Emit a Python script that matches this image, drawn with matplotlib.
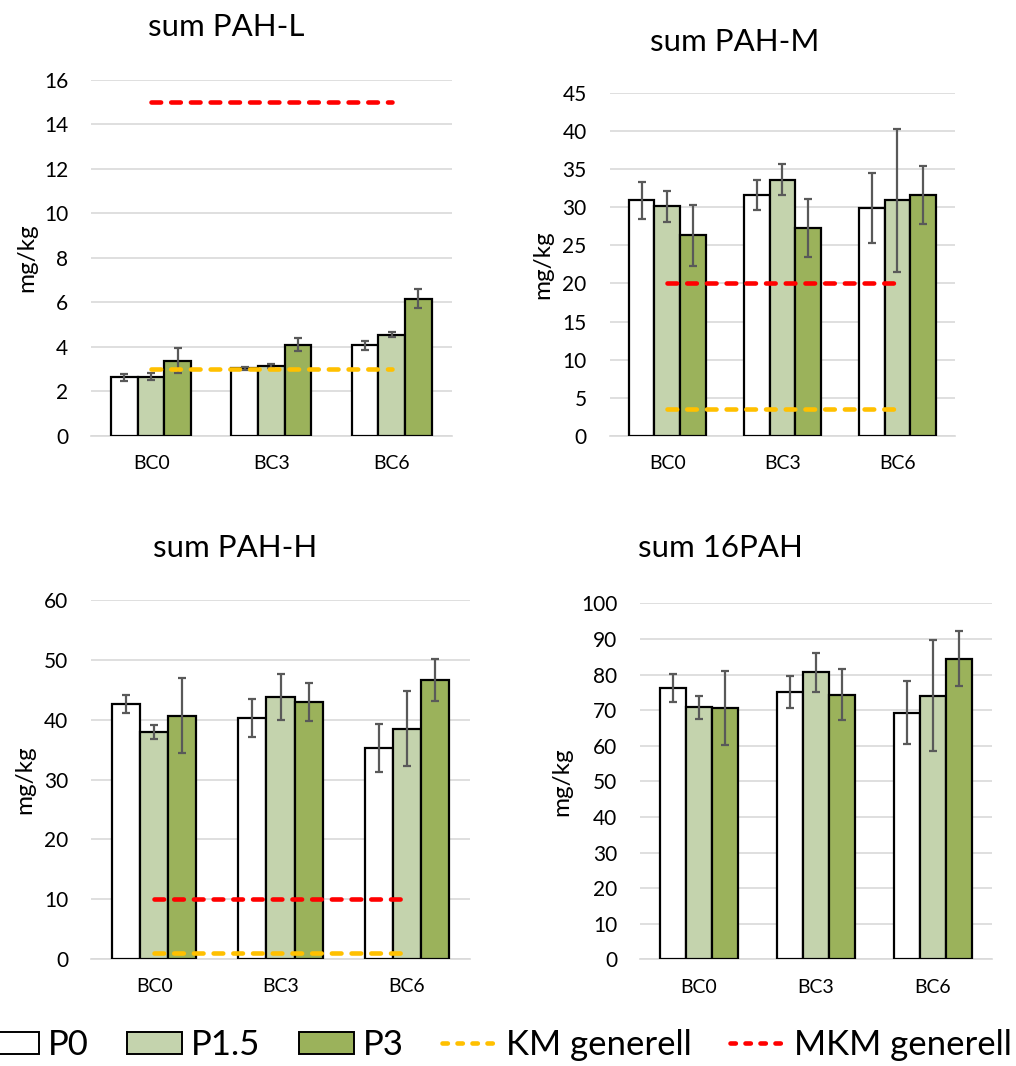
import matplotlib.pyplot as plt
import numpy as np
from matplotlib.patches import Patch
from matplotlib.lines import Line2D

plt.rcParams['font.family'] = ['Lato', 'DejaVu Sans']

categories = ["BC0", "BC3", "BC6"]
series = ["P0", "P1.5", "P3"]
colors = ["#FFFFFF", "#C4D3AD", "#9BB25B"]

# values per panel: rows = P0, P1.5, P3 ; cols = BC0, BC3, BC6
pah_l = [[2.64, 3.04, 4.08], [2.67, 3.15, 4.56], [3.39, 4.11, 6.17]]
pah_l_err = [[0.15, 0.08, 0.2], [0.15, 0.08, 0.13], [0.55, 0.3, 0.42]]
pah_m = [[30.9, 31.6, 29.9], [30.1, 33.6, 30.9], [26.3, 27.3, 31.6]]
pah_m_err = [[2.4, 2.0, 4.6], [2.0, 2.0, 9.4], [4.0, 3.8, 3.8]]
pah_h = [[42.6, 40.3, 35.3], [37.9, 43.8, 38.5], [40.7, 43.0, 46.6]]
pah_h_err = [[1.5, 3.1, 4.0], [1.2, 3.9, 6.3], [6.2, 3.2, 3.5]]
pah_16 = [[76.2, 75.0, 69.3], [70.8, 80.6, 74.0], [70.6, 74.4, 84.5]]
pah_16_err = [[4.0, 4.5, 8.8], [3.2, 5.4, 15.6], [10.3, 7.1, 7.7]]

# threshold lines (KM generell, MKM generell)
km = [3.0, 3.5, 1.0, None]
mkm = [15.0, 20.0, 10.0, None]

panels = [
    ("sum PAH-L", pah_l, pah_l_err, 16, 2, [0.0896, 0.591, 0.355, 0.334], (226, 27), 37),
    ("sum PAH-M", pah_m, pah_m_err, 45, 5, [0.600, 0.591, 0.340, 0.322], (735, 42), 553),
    ("sum PAH-H", pah_h, pah_h_err, 60, 10, [0.0896, 0.1004, 0.373, 0.3366], (235, 548), 35),
    ("sum 16PAH", pah_16, pah_16_err, 100, 10, [0.630, 0.100, 0.346, 0.334], (720, 548), 572),
]

W, H = 1016, 1066
fig = plt.figure(figsize=(W / 100, H / 100), dpi=100)

x = np.arange(len(categories))
bw = 0.222

for i, (title, vals, errs, ymax, step, rect, tpos, ylx) in enumerate(panels):
    ax = fig.add_axes(rect)
    for j in range(3):
        ax.bar(x + (j - 1) * bw, vals[j], bw, color=colors[j], edgecolor="black",
               linewidth=1.6, zorder=3)
        ax.errorbar(x + (j - 1) * bw, vals[j], yerr=errs[j], fmt="none",
                    ecolor="#595959", elinewidth=1.6, capsize=3, capthick=1.6, zorder=4)
    if km[i] is not None:
        ax.plot([0, 2], [km[i], km[i]], color="#FFC000", lw=3.3, dashes=(2.1, 2.2),
                dash_capstyle="round", zorder=5)
        ax.plot([0, 2], [mkm[i], mkm[i]], color="#FF0000", lw=3.3, dashes=(2.1, 2.2),
                dash_capstyle="round", zorder=5)
    ax.set_xlim(-0.5, 2.5)
    ax.set_ylim(0, ymax)
    ax.set_yticks(np.arange(0, ymax + 0.1, step))
    ax.set_xticks(x)
    ax.set_xticklabels(categories, fontsize=14)
    ax.tick_params(axis="y", labelsize=15, length=0, pad=16.5)
    ax.tick_params(axis="x", length=0, pad=14)
    ax.grid(axis="y", color="#D9D9D9", linewidth=1.2, zorder=0)
    for s in ["top", "right", "left"]:
        ax.spines[s].set_visible(False)
    ax.spines["bottom"].set_color("#D9D9D9")
    ax.spines["bottom"].set_linewidth(1.2)
    ax.set_ylabel("mg/kg", fontsize=17.5)
    ax.yaxis.set_label_coords((ylx - rect[0] * W) / (rect[2] * W), 0.5)
    fig.text(tpos[0] / W, 1 - tpos[1] / H, title, fontsize=22.5, ha="center", va="center")

handles = [Patch(facecolor=colors[k], edgecolor="black", linewidth=1.4) for k in range(3)]
handles += [Line2D([0], [0], color="#FFC000", lw=3.3, dashes=(1.17, 2.1), dash_capstyle="round"),
            Line2D([0], [0], color="#FF0000", lw=3.3, dashes=(1.17, 2.1), dash_capstyle="round")]
fig.legend(handles, series + ["KM generell", "MKM generell"], loc="center",
           bbox_to_anchor=(0.49, 1 - 1045 / H), ncol=5, frameon=False, fontsize=25,
           handlelength=1.6, handleheight=0.6, handletextpad=0.25, columnspacing=1.1,
           borderpad=0, borderaxespad=0)

fig.savefig("out.png", dpi=100)
